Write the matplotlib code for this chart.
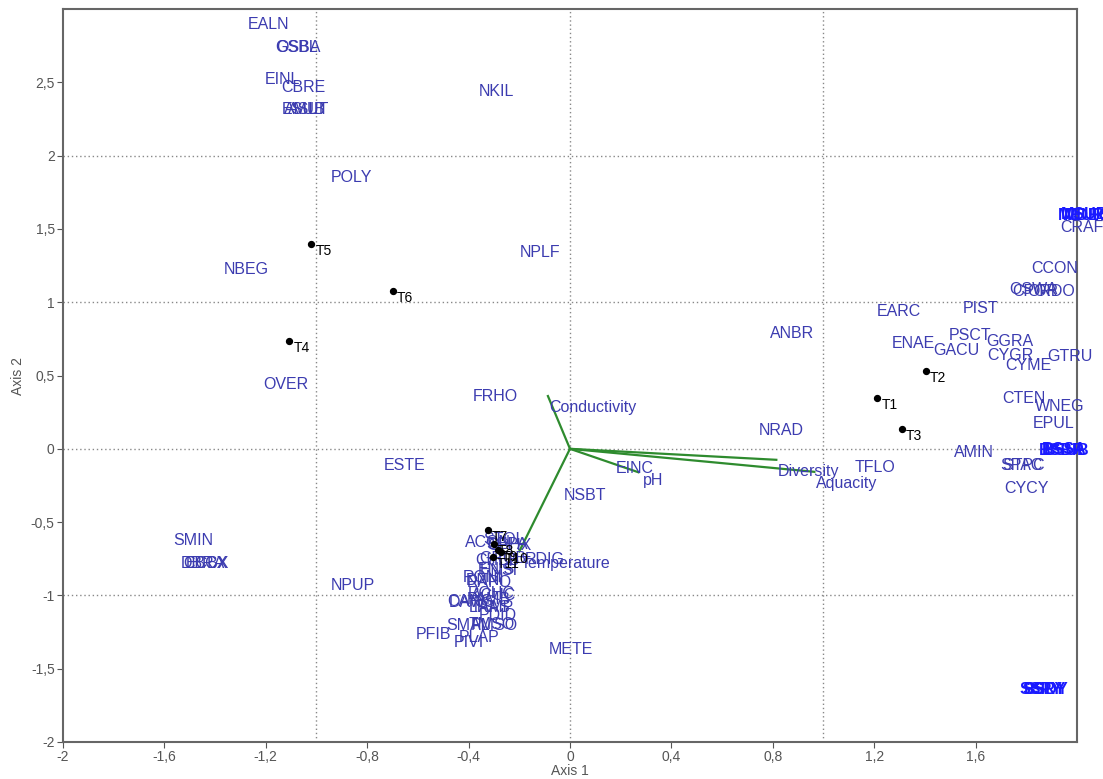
import matplotlib
matplotlib.use("Agg")
import matplotlib.pyplot as plt

plt.rcParams['font.family'] = ['Liberation Sans', 'DejaVu Sans']

# ---- data ----
species = ["EALN", "GSBL", "OSBA", "EINL", "CBRE", "ESUB", "AMUT", "ASLT",
           "NKIL", "POLY", "NPLF", "NBEG", "OVER", "FRHO", "ESTE", "ANBR",
           "NRAD", "EINC", "pH", "NSBT", "METE", "NPUP", "SMIN", "DBRA", "CBCX",
           "ECBX", "TFLO", "EARC", "PIST", "ENAE", "GACU", "PSCT", "GGRA",
           "CYGR", "CYME", "GTRU", "CTEN", "WNEG", "EPUL", "AMIN", "SPAC",
           "STPC", "CYCY", "CCON", "OSWA", "CPOR", "ORDO", "CRAF",
           "ACON", "STOL", "SEPA", "CPHX", "CHEB", "GROB", "RDIG", "ENIS",
           "HNSI", "RONI", "DNNI", "RAPO", "ROHC", "ACUC", "CANG", "DAWS",
           "PAMB", "LRAS", "TAMP", "PDID", "SMAL", "TMSO", "PMSO", "PFIB",
           "PLAP", "PIVI"]
species_x = [-1.19, -1.08, -1.07, -1.134, -1.051, -1.05, -1.04, -1.035,
             -0.292, -0.862, -0.119, -1.277, -1.119, -0.296, -0.652, 0.877,
             0.834, 0.257, 0.328, 0.059, 0.004, -0.858, -1.486, -1.45, -1.44,
             -1.43, 1.202, 1.296, 1.621, 1.356, 1.526, 1.577, 1.735,
             1.739, 1.81, 1.972, 1.79, 1.933, 1.909, 1.593, 1.78,
             1.79, 1.802, 1.913, 1.83, 1.835, 1.90, 2.02,
             -0.325, -0.26, -0.25, -0.24, -0.285, -0.265, -0.10, -0.29,
             -0.28, -0.345, -0.335, -0.32, -0.31, -0.30, -0.395, -0.385,
             -0.32, -0.315, -0.305, -0.285, -0.403, -0.31, -0.30, -0.538,
             -0.36, -0.40]
species_y = [2.894, 2.737, 2.737, 2.519, 2.464, 2.314, 2.314, 2.314,
             2.437, 1.85, 1.338, 1.222, 0.437, 0.355, -0.116, 0.785,
             0.123, -0.137, -0.218, -0.321, -1.372, -0.935, -0.628, -0.785, -0.785,
             -0.785, -0.13, 0.935, 0.956, 0.717, 0.669, 0.771, 0.73,
             0.635, 0.567, 0.628, 0.341, 0.287, 0.171, -0.027, -0.116,
             -0.116, -0.273, 1.229, 1.09, 1.07, 1.07, 1.509,
             -0.64, -0.62, -0.65, -0.66, -0.76, -0.75, -0.758, -0.82,
             -0.83, -0.88, -0.90, -0.91, -0.99, -1.00, -1.04, -1.045,
             -1.03, -1.08, -1.085, -1.14, -1.208, -1.20, -1.205, -1.27,
             -1.285, -1.32]

# dense overlapping label clusters (bright blue)
cluster_names = ["MEUR", "MSUB", "MDEC", "BSBR", "BSSA", "BSUB",
                 "SSPY", "SSRY", "BSDY"]
cluster_x = [2.02, 2.03, 2.04, 1.94, 1.95, 1.96, 1.86, 1.87, 1.88]
cluster_y = [1.59, 1.595, 1.59, -0.01, -0.005, -0.01, -1.645, -1.64, -1.645]

samples = ["T1", "T2", "T3", "T4", "T5", "T6", "T7", "T8", "T9", "T10", "T11"]
samples_x = [1.213, 1.403, 1.308, -1.107, -1.02, -0.70,
             -0.324, -0.300, -0.285, -0.273, -0.304]
samples_y = [0.348, 0.532, 0.137, 0.737, 1.399, 1.078,
             -0.553, -0.648, -0.689, -0.703, -0.737]

env = ["Conductivity", "Diversity", "Aquacity", "", "Temperature"]
env_x = [-0.087, 0.814, 0.964, 0.27, -0.20]
env_y = [0.36, -0.075, -0.157, -0.16, -0.70]

xticks = [-2, -1.6, -1.2, -0.8, -0.4, 0, 0.4, 0.8, 1.2, 1.6]
yticks = [-2, -1.5, -1, -0.5, 0, 0.5, 1, 1.5, 2, 2.5]


def fmt(v):
    return ("%g" % v).replace(".", ",")


fig = plt.figure(figsize=(11.03, 7.79), dpi=100)
ax = fig.add_axes([0.0571, 0.0475, 0.9193, 0.9409])
ax.set_xlim(-2, 2.0)
ax.set_ylim(-2, 3.0)

# grid lines
for gx in [-1, 0, 1]:
    ax.axvline(gx, color='#888888', linestyle=(0, (1, 2)), linewidth=1, zorder=0)
for gy in [-1, 0, 1, 2]:
    ax.axhline(gy, color='#888888', linestyle=(0, (1, 2)), linewidth=1, zorder=0)

lab_col = '#3c3cb0'
fs = 11.5
for n, x, y in zip(species, species_x, species_y):
    ax.text(x, y, n, color=lab_col, fontsize=fs, ha='center', va='center',
            clip_on=False, zorder=3)

for n, x, y in zip(cluster_names, cluster_x, cluster_y):
    ax.text(x, y, n, color='#1a1aff', fontsize=fs, ha='center', va='center',
            fontweight='bold', clip_on=False, zorder=3)

# environmental vectors
for n, x, y in zip(env, env_x, env_y):
    ax.plot([0, x], [0, y], color='#2e8b2e', linewidth=1.6, zorder=2)
    if n:
        ax.annotate(n, (x, y), xytext=(1, -3), textcoords='offset points',
                    color=lab_col, fontsize=fs, ha='left', va='top', zorder=3)

# samples
ax.scatter(samples_x, samples_y, s=18, color='black', zorder=4)
for n, x, y in zip(samples, samples_x, samples_y):
    ax.annotate(n, (x, y), xytext=(3, -5), textcoords='offset points',
                color='black', fontsize=10, ha='left', va='center', zorder=4)

ax.set_xticks(xticks)
ax.set_xticklabels([fmt(v) for v in xticks])
ax.set_yticks(yticks)
ax.set_yticklabels([fmt(v) for v in yticks])
ax.tick_params(colors='#555555', labelsize=10, length=4, direction='out', pad=2)
for sp in ax.spines.values():
    sp.set_color('#666666')
    sp.set_linewidth(1.5)
ax.set_xlabel("Axis 1", color='#555555', fontsize=10, labelpad=0)
ax.set_ylabel("Axis 2", color='#555555', fontsize=10, labelpad=4)

fig.savefig("out.png", dpi=100)
